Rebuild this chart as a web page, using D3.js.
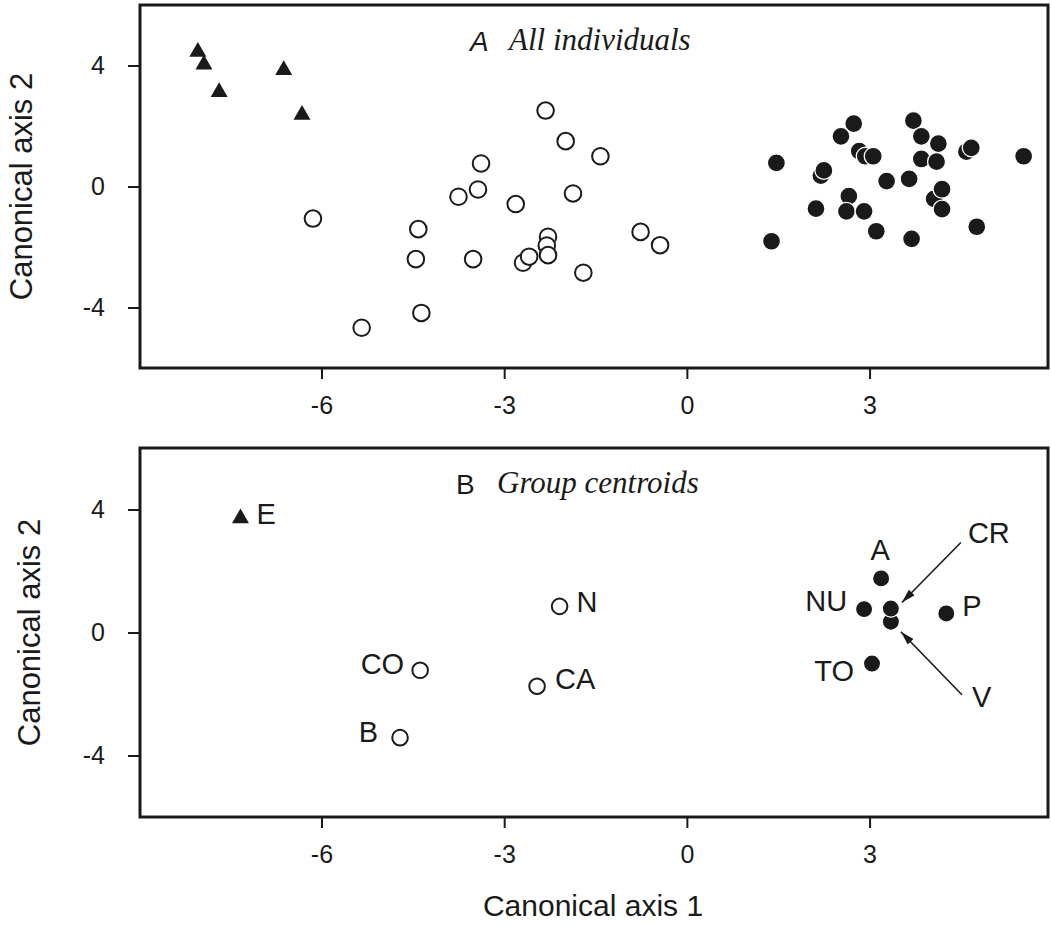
<!DOCTYPE html>
<html>
<head>
<meta charset="utf-8">
<script src="https://cdn.jsdelivr.net/npm/d3@7"></script>
<style>
  body { margin: 0; background: #fff; }
  text { font-family: "Liberation Sans", Arial, sans-serif; fill: #1a1a1a; }
</style>
</head>
<body>
<div id="chart"></div>
<script>
// ---- data: panel A, all individuals ----
const triX = [-8.03, -7.93, -7.68, -6.62, -6.32];
const triY = [4.45, 4.03, 3.12, 3.85, 2.37];

const openX = [-6.14, -2.32, -1.99, -1.42, -3.38, -3.43, -3.75, -2.81, -1.87, -4.41, -4.45,
               -3.51, -2.69, -2.59, -2.28, -2.30, -2.28, -1.70, -0.76, -0.44, -4.36, -5.34];
const openY = [-1.06, 2.51, 1.50, 1.00, 0.76, -0.10, -0.34, -0.58, -0.23, -1.41, -2.40,
               -2.40, -2.52, -2.32, -1.66, -1.95, -2.27, -2.85, -1.50, -1.94, -4.18, -4.67];

const fillX = [1.47, 1.39, 2.74, 2.53, 2.83, 2.93, 3.06, 2.20, 2.25, 2.12, 2.66, 2.62, 2.91, 3.11, 3.28,
               3.65, 3.72, 3.85, 4.13, 3.85, 4.10, 4.06, 4.19, 4.19, 3.69, 4.59, 4.67, 4.76, 5.53];
const fillY = [0.78, -1.81, 2.08, 1.66, 1.17, 1.00, 1.00, 0.36, 0.53, -0.73, -0.32, -0.82, -0.82, -1.48, 0.18,
               0.25, 2.18, 1.66, 1.42, 0.91, 0.82, -0.41, -0.09, -0.75, -1.73, 1.15, 1.28, -1.33, 1.00];

// ---- data: panel B, group centroids ----
const centroidNames = ["E", "CO", "B", "N", "CA", "A", "NU", "TO", "V", "CR", "P"];
const centroidX = [-7.33, -4.38, -4.71, -2.09, -2.46, 3.19, 2.91, 3.04, 3.35, 3.35, 4.26];
const centroidY = [3.71, -1.23, -3.42, 0.85, -1.75, 1.76, 0.76, -1.01, 0.35, 0.78, 0.62];
const centroidGroup = ["tri", "open", "open", "open", "open", "fill", "fill", "fill", "fill", "fill", "fill"];

const xTicks = [-6, -3, 0, 3];
const yTicks = [-4, 0, 4];

// label placement (pixels from the point)
const labelPos = {
  E:  { dx: 16, dy: -5, anchor: "start" },
  CO: { dx: -16, dy: -7, anchor: "end" },
  B:  { dx: -22, dy: -6, anchor: "end" },
  N:  { dx: 17, dy: -5, anchor: "start" },
  CA: { dx: 18, dy: -8, anchor: "start" },
  A:  { dx: -1, dy: -29, anchor: "middle" },
  NU: { dx: -17, dy: -9, anchor: "end" },
  TO: { dx: -18, dy: 7, anchor: "end" },
  V:  { dx: 81, dy: 75, anchor: "start" },
  CR: { dx: 77, dy: -76, anchor: "start" },
  P:  { dx: 16, dy: -8, anchor: "start" }
};
const arrows = [
  { name: "CR", tail: [70, -66], tip: [11, -6] },
  { name: "V",  tail: [71, 73], tip: [10, 10] }
];

const W = 1051, H = 925;
const left = 140, right = 1048;
const ink = "#1a1a1a";

const svg = d3.select("#chart").append("svg")
  .attr("width", W)
  .attr("height", H);

const defs = svg.append("defs");
defs.append("marker")
  .attr("id", "head")
  .attr("markerUnits", "userSpaceOnUse")
  .attr("viewBox", "0 -5 14 10")
  .attr("refX", 14).attr("refY", 0)
  .attr("markerWidth", 14).attr("markerHeight", 10)
  .attr("orient", "auto")
  .append("path")
  .attr("d", "M0,-4L14,0L0,4Z")
  .attr("fill", ink);

const x = d3.scaleLinear().domain([-8.98, 5.93]).range([left, right]);
const tri = d3.symbol().type(d3.symbolTriangle).size(125);

function panel(top, bottom, titleY) {
  const y = d3.scaleLinear().domain([-6, 6]).range([bottom, top]);
  const g = svg.append("g");

  const xa = g.append("g")
    .attr("transform", `translate(0,${bottom})`)
    .call(d3.axisBottom(x).tickValues(xTicks).tickSize(11).tickPadding(17).tickFormat(d => String(d)));
  const ya = g.append("g")
    .attr("transform", `translate(${left},0)`)
    .call(d3.axisLeft(y).tickValues(yTicks).tickSize(12).tickPadding(23).tickFormat(d => String(d)));
  [xa, ya].forEach(a => {
    a.select(".domain").remove();
    a.selectAll(".tick line").attr("stroke", ink).attr("stroke-width", 2);
    a.selectAll(".tick text").style("font-size", "25px").attr("fill", ink);
  });

  g.append("rect")
    .attr("x", left).attr("y", top)
    .attr("width", right - left).attr("height", bottom - top)
    .attr("fill", "none")
    .attr("stroke", ink)
    .attr("stroke-width", 3);

  g.append("text")
    .attr("transform", `translate(${titleY},${(top + bottom) / 2}) rotate(-90)`)
    .attr("text-anchor", "middle")
    .style("font-size", "31px")
    .text("Canonical axis 2");

  return { g, y };
}

// ---- panel A ----
const A = panel(5, 368, 32);

A.g.append("text")
  .attr("x", 470).attr("y", 51)
  .style("font-size", "28px").style("font-style", "italic")
  .text("A");
A.g.append("text")
  .attr("x", 509).attr("y", 50)
  .style("font-family", "'Liberation Serif', 'Times New Roman', serif")
  .style("font-size", "31px").style("font-style", "italic")
  .text("All individuals");

A.g.append("g").selectAll("path")
  .data(d3.range(triX.length))
  .join("path")
  .attr("d", tri)
  .attr("transform", i => `translate(${x(triX[i])},${A.y(triY[i])})`)
  .attr("fill", ink);

A.g.append("g").selectAll("circle")
  .data(d3.range(openX.length))
  .join("circle")
  .attr("cx", i => x(openX[i]))
  .attr("cy", i => A.y(openY[i]))
  .attr("r", 8.3)
  .attr("fill", "#fff")
  .attr("stroke", ink)
  .attr("stroke-width", 2);

A.g.append("g").selectAll("circle")
  .data(d3.range(fillX.length))
  .join("circle")
  .attr("cx", i => x(fillX[i]))
  .attr("cy", i => A.y(fillY[i]))
  .attr("r", 9)
  .attr("fill", ink)
  .attr("stroke", "#fff")
  .attr("stroke-width", 1.3);

// ---- panel B ----
const B = panel(448, 817, 40);

B.g.append("text")
  .attr("x", 456).attr("y", 494)
  .style("font-size", "28px")
  .text("B");
B.g.append("text")
  .attr("x", 497).attr("y", 493)
  .style("font-family", "'Liberation Serif', 'Times New Roman', serif")
  .style("font-size", "31px").style("font-style", "italic")
  .text("Group centroids");

const idx = d3.range(centroidNames.length);
const px = i => x(centroidX[i]);
const py = i => B.y(centroidY[i]);

B.g.append("g").selectAll("path")
  .data(idx.filter(i => centroidGroup[i] === "tri"))
  .join("path")
  .attr("d", tri)
  .attr("transform", i => `translate(${px(i)},${py(i)})`)
  .attr("fill", ink);

B.g.append("g").selectAll("circle")
  .data(idx.filter(i => centroidGroup[i] === "open"))
  .join("circle")
  .attr("cx", px).attr("cy", py)
  .attr("r", 7.8)
  .attr("fill", "#fff")
  .attr("stroke", ink)
  .attr("stroke-width", 2);

B.g.append("g").selectAll("circle")
  .data(idx.filter(i => centroidGroup[i] === "fill"))
  .join("circle")
  .attr("cx", px).attr("cy", py)
  .attr("r", 8.6)
  .attr("fill", ink)
  .attr("stroke", "#fff")
  .attr("stroke-width", 1.3);

B.g.append("g").selectAll("text")
  .data(idx)
  .join("text")
  .attr("x", i => px(i) + labelPos[centroidNames[i]].dx)
  .attr("y", i => py(i) + labelPos[centroidNames[i]].dy)
  .attr("dy", "0.36em")
  .attr("text-anchor", i => labelPos[centroidNames[i]].anchor)
  .style("font-size", "29px")
  .text(i => centroidNames[i]);

B.g.append("g").selectAll("line")
  .data(arrows)
  .join("line")
  .attr("x1", a => px(centroidNames.indexOf(a.name)) + a.tail[0])
  .attr("y1", a => py(centroidNames.indexOf(a.name)) + a.tail[1])
  .attr("x2", a => px(centroidNames.indexOf(a.name)) + a.tip[0])
  .attr("y2", a => py(centroidNames.indexOf(a.name)) + a.tip[1])
  .attr("stroke", ink)
  .attr("stroke-width", 1.6)
  .attr("marker-end", "url(#head)");

// ---- shared x title ----
svg.append("text")
  .attr("x", 593).attr("y", 916)
  .attr("text-anchor", "middle")
  .style("font-size", "30px")
  .text("Canonical axis 1");
</script>
</body>
</html>
